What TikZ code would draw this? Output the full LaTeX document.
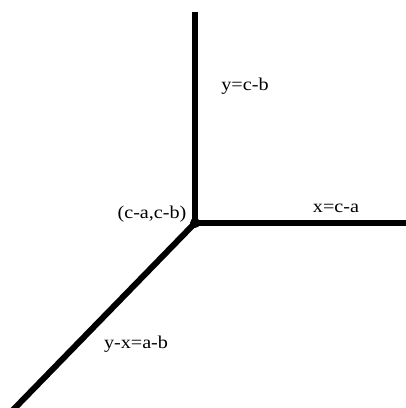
\documentclass[tikz,border=0pt]{standalone}
\usepackage{fontspec}
\setmainfont[FakeStretch=1.12]{Liberation Serif}
\begin{document}
\begin{tikzpicture}[x=1pt,y=-1pt,
  axis/.style={line width=6pt,black},
  lbl/.style={font=\fontsize{18}{20}\selectfont,inner sep=0pt}]
\useasboundingbox (0,0) rectangle (406,408);
\coordinate (o) at (195,223);
\coordinate (top) at (195,12);
\coordinate (right) at (406,223);
\coordinate (bl) at (11,412);
\draw[axis] (o) -- (top);
\draw[axis] (o) -- (right);
\draw[axis] (o) -- (bl);
\fill (o) circle (5pt);
\node[lbl] (l1) at (245,86) {y=c-b};
\node[lbl] (l2) at (336,208) {x=c-a};
\node[lbl] (l3) at (152,214) {(c-a,c-b)};
\node[lbl] (l4) at (136,344) {y-x=a-b};
\end{tikzpicture}
\end{document}
